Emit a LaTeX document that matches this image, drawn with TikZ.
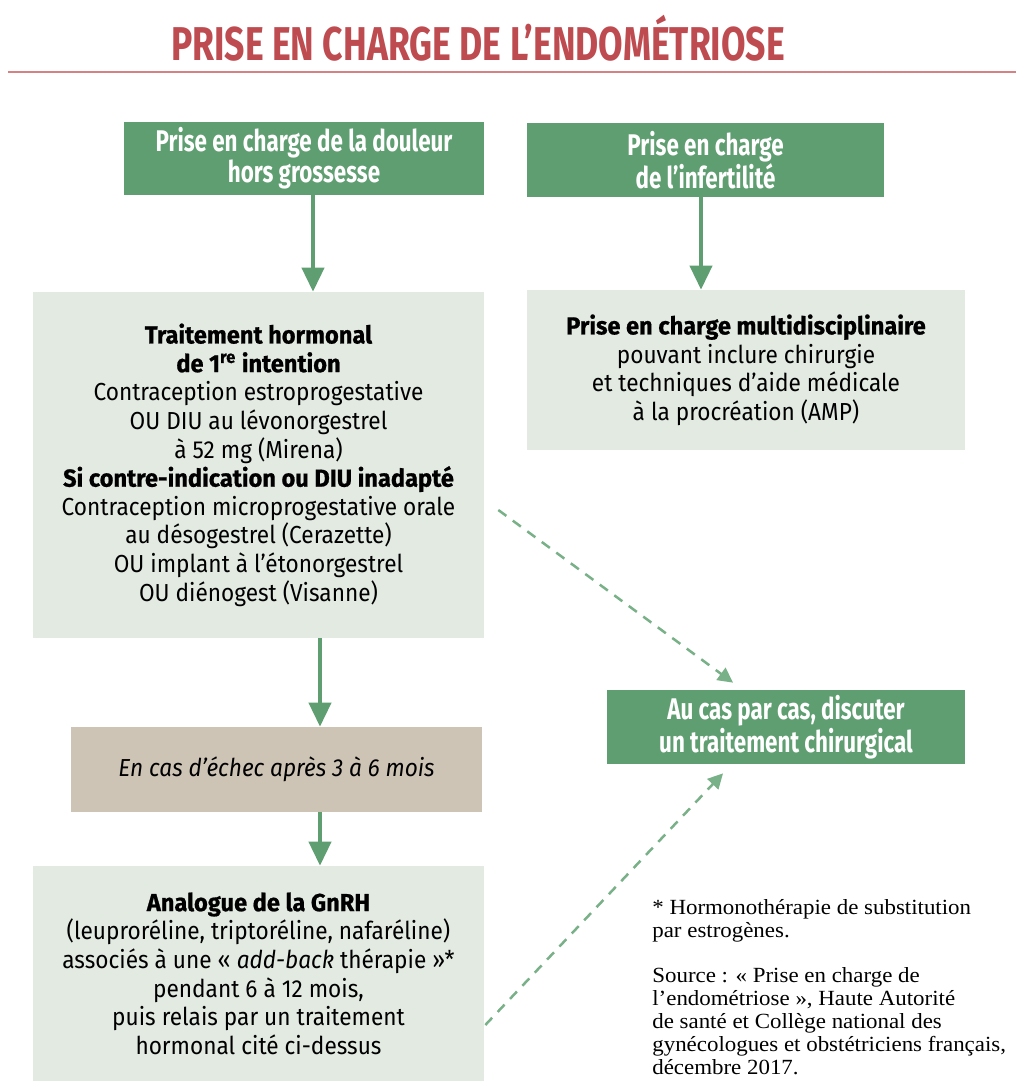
\documentclass[tikz,border=0pt]{standalone}
\usepackage{fontspec}
\setmainfont[FakeStretch=0.92, BoldFeatures={FakeStretch=0.96, FakeBold=0.8}]{Fira Sans}
\newfontfamily\titlefont[FakeStretch=0.75]{Fira Sans}
\newfontfamily\headfont[FakeStretch=0.75]{Fira Sans}
\newfontfamily\notefont[FakeStretch=1.06]{Liberation Serif}
\usetikzlibrary{arrows.meta}
\definecolor{darkgreen}{RGB}{94,158,113}
\definecolor{palegreen}{RGB}{226,234,226}
\definecolor{dashgreen}{RGB}{120,176,136}
\definecolor{sand}{RGB}{206,196,181}
\definecolor{titlered}{RGB}{190,75,80}
\definecolor{rulered}{RGB}{214,130,132}
\begin{document}
\begin{tikzpicture}[x=0.02cm,y=-0.02cm,
    head/.style={fill=darkgreen, text=white, align=center, inner sep=0,
        font=\headfont\bfseries\fontsize{17}{16}\selectfont},
    panel/.style={fill=palegreen, align=center, inner sep=0,
        font=\fontsize{14}{16.3}\selectfont},
    link/.style={draw=darkgreen, line width=0.08cm, -{Triangle[width=0.44cm,length=0.48cm]}},
    hint/.style={draw=dashgreen, line width=0.05cm, dash pattern=on 0.2cm off 0.16cm,
        -{Triangle[width=0.3cm,length=0.3cm]}}]
    \useasboundingbox (0,0) rectangle (1016,1081);

    % title and rule
    \node[text=titlered, font=\titlefont\bfseries\fontsize{27}{27}\selectfont] (title) at (478,38)
        {PRISE EN CHARGE DE L’ENDOMÉTRIOSE};
    \draw[rulered, line width=0.05cm] (8,72) -- (1016,72);

    % boxes
    \node[head, minimum width=7.2cm, minimum height=1.46cm] (pain) at (304,158.5)
        {Prise en charge de la douleur\\hors grossesse};
    \node[head, minimum width=7.14cm, minimum height=1.48cm] (fert) at (705.5,160)
        {Prise en charge\\de l’infertilité};
    \node[panel, minimum width=9.02cm, minimum height=6.92cm] (first) at (258.5,465)
        {{\bfseries Traitement hormonal}\\{\bfseries de 1\textsuperscript{re} intention}\\
         Contraception estroprogestative\\OU DIU au lévonorgestrel\\à 52 mg (Mirena)\\
         {\bfseries Si contre-indication ou DIU inadapté}\\
         Contraception microprogestative orale\\au désogestrel (Cerazette)\\
         OU implant à l’étonorgestrel\\OU diénogest (Visanne)};
    \node[panel, minimum width=8.76cm, minimum height=3.2cm] (multi) at (746,370)
        {{\bfseries Prise en charge multidisciplinaire}\\pouvant inclure chirurgie\\
         et techniques d’aide médicale\\à la procréation (AMP)};
    \node[panel, fill=sand, minimum width=8.22cm, minimum height=1.7cm] (fail) at (276.5,769.5)
        {\itshape En cas d’échec après 3 à 6 mois};
    \node[panel, minimum width=9.02cm, minimum height=4.3cm] (gnrh) at (258.5,973.5)
        {{\bfseries Analogue de la GnRH}\\(leuproréline, triptoréline, nafaréline)\\
         associés à une «~\textit{add-back} thérapie~»*\\pendant 6 à 12 mois,\\
         puis relais par un traitement\\hormonal cité ci-dessus};
    \node[head, minimum width=7.16cm, minimum height=1.48cm] (surg) at (786,727)
        {Au cas par cas, discuter\\un traitement chirurgical};

    % footnote
    \node[anchor=north west, align=left, inner sep=0,
        font=\notefont\fontsize{12.3}{13}\selectfont] (note) at (652,899)
        {* Hormonothérapie de substitution\\par estrogènes.\\[13pt]
         Source : « Prise en charge de\\l’endométriose », Haute Autorité\\
         de santé et Collège national des\\gynécologues et obstétriciens français,\\
         décembre 2017.};

    % connectors
    \draw[link] ([xshift=0.18cm]pain.south) -- ([xshift=0.18cm]pain.south |- first.north);
    \draw[link] ([xshift=-0.09cm]fert.south) -- ([xshift=-0.09cm]fert.south |- multi.north);
    \draw[link] ([xshift=1.23cm]first.south) -- ([xshift=1.23cm]first.south |- fail.north);
    \draw[link] ([xshift=0.87cm]fail.south) -- ([xshift=0.87cm]fail.south |- gnrh.north);
    \draw[hint] ([shift={(0.28cm,-0.9cm)}]first.east) -- ([shift={(-1.06cm,0.14cm)}]surg.north);
    \draw[hint] ([shift={(0.02cm,-1.03cm)}]gnrh.east) -- ([shift={(-1.26cm,-0.18cm)}]surg.south);
\end{tikzpicture}
\end{document}
